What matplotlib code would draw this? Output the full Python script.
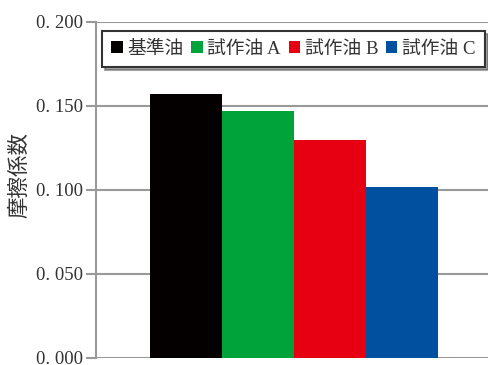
import matplotlib
matplotlib.use("Agg")
import matplotlib.pyplot as plt
from matplotlib.patches import Patch

categories = ["基準油", "試作油 A", "試作油 B", "試作油 C"]
values = [0.157, 0.147, 0.130, 0.102]
colors = ["#050000", "#00a33a", "#e60012", "#0050a0"]
yticks = [0.0, 0.05, 0.10, 0.15, 0.20]
ytick_labels = ["0. 000", "0. 050", "0. 100", "0. 150", "0. 200"]

plt.rcParams['font.family'] = ['Noto Sans CJK JP', 'DejaVu Sans']

fig = plt.figure(figsize=(4.88, 3.65), dpi=100)
ax = fig.add_axes([96/488, 7/365, 1 - 96/488, 336/365])

x = list(range(len(values)))
ax.bar(x, values, width=1.0, color=colors, zorder=3)

ax.set_xlim(-(185.5 - 96) / 72, (488 - 185.5) / 72)
ax.set_ylim(0, 0.2)
ax.set_yticks(yticks)
ax.set_yticklabels(ytick_labels, family=['Liberation Serif'], fontsize=13.5, color="#333333")
ax.set_xticks([])
ax.grid(axis='y', color="#999999", linewidth=1.5, zorder=0)
for s in ['top', 'right', 'bottom']:
    ax.spines[s].set_visible(False)
ax.spines['left'].set_color("#999999")
ax.spines['left'].set_linewidth(1.5)
ax.tick_params(axis='y', length=7, width=1.5, color="#999999", pad=2)

ax.set_ylabel("摩擦係数", fontsize=15.5, color="#333333")
ax.yaxis.set_label_coords((30 - 96) / 392, 0.545)

handles = [Patch(facecolor=c, edgecolor='none') for c in colors]
leg = ax.legend(handles, categories, loc='upper left', bbox_to_anchor=(6/392, 1 - 9/336),
                bbox_transform=ax.transAxes,
                ncol=4, frameon=True, shadow=True, fancybox=False,
                prop={'family': ['Liberation Serif', 'Noto Sans CJK JP'], 'size': 13.5},
                handlelength=0.6, handleheight=0.6, handletextpad=0.25,
                columnspacing=0.42, borderpad=0.5, borderaxespad=0)
leg.get_frame().set_edgecolor("#333333")
leg.get_frame().set_linewidth(1.5)
for t in leg.get_texts():
    t.set_color("#333333")

fig.savefig("out.png", dpi=100, facecolor='white')
